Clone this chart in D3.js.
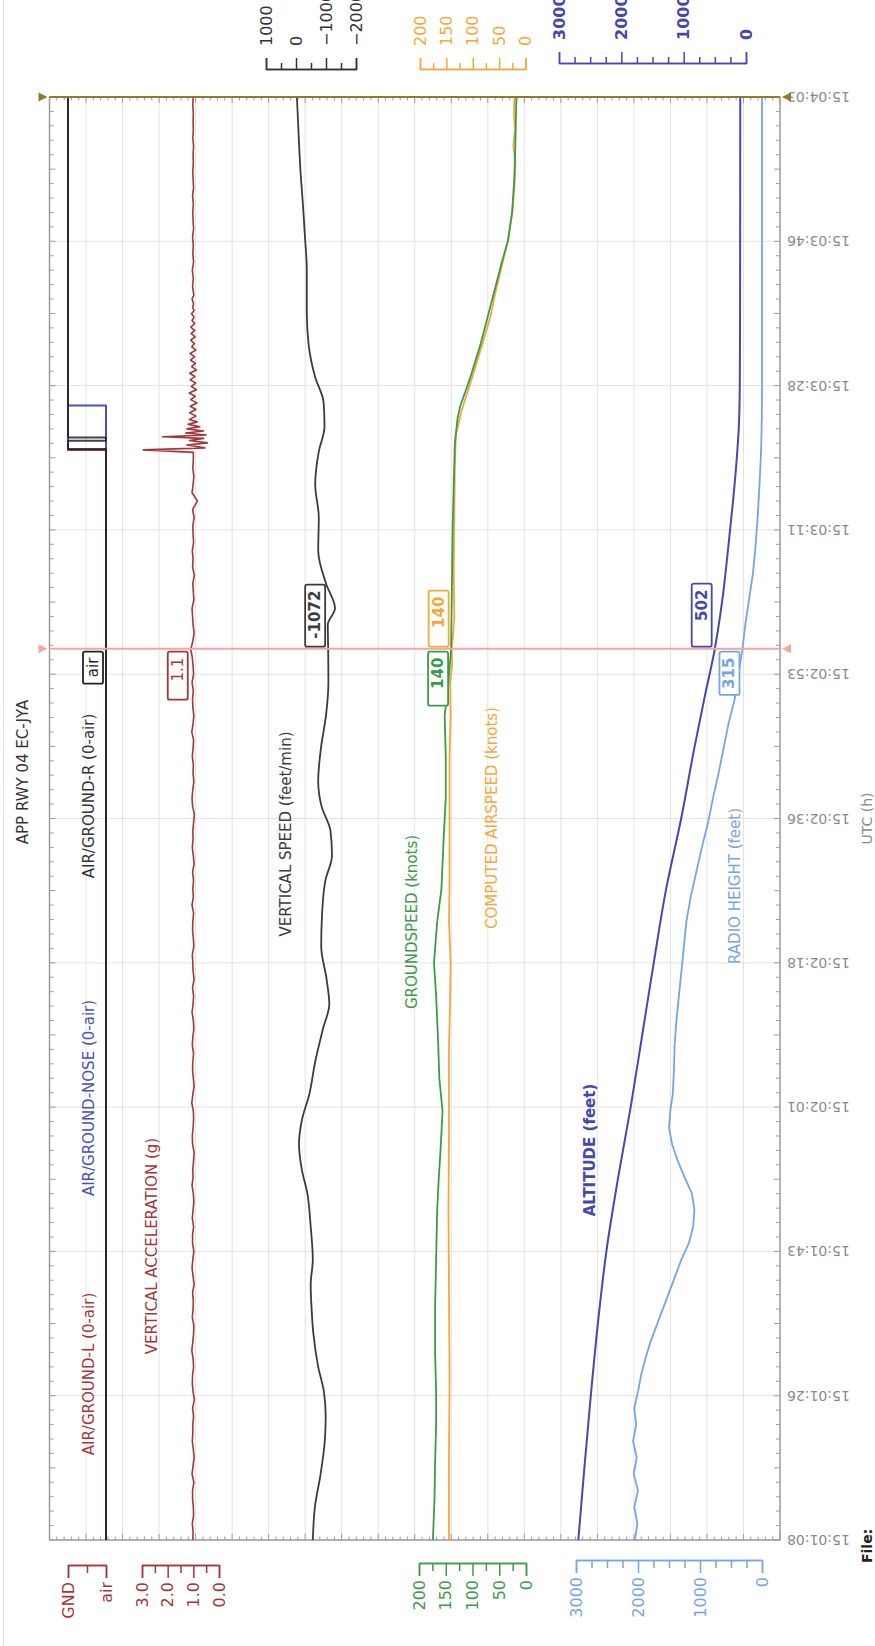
<!DOCTYPE html>
<html>
<head>
<meta charset="utf-8">
<script src="https://cdn.jsdelivr.net/npm/d3@7"></script>
<style>
  body { margin: 0; background: #fff; }
  svg { display: block; }
  text { font-family: "DejaVu Sans", Verdana, sans-serif; }
</style>
</head>
<body>
<svg id="chart" width="875" height="1646"></svg>
<script>
// ---- data (time = seconds after 15:01:08) ----
const timeLabels = ["15:01:08", "15:01:26", "15:01:43", "15:02:01", "15:02:18", "15:02:36",
                    "15:02:53", "15:03:11", "15:03:28", "15:03:46", "15:04:03"]
const timeStep = 17.5
const cursorTime = 108.1

// air/ground discretes: 0 = air, 1 = GND
const gearL = [[0, 0], [132.2, 1], [175, 1]]
const gearR = [[0, 0], [132.3, 1], [133.3, 0], [133.7, 1], [175, 1]]
const gearNose = [[0, 0], [137.6, 1], [175, 1]]

// vertical acceleration (g), one sample per second during the approach
const accelApproach = [
  1.02, 1.01, 1.04, 0.99, 1.00, 1.03, 1.03, 0.98, 1.05, 1.01, 0.97, 1.00, 1.04, 1.02, 1.02, 0.99, 1.03, 0.96, 1.01, 1.04,
  1.03, 0.99, 1.01, 1.06, 1.02, 0.99, 0.98, 1.04, 1.01, 1.00, 1.03, 0.97, 1.01, 1.05, 1.02, 0.98, 1.03, 1.03, 0.99, 1.04,
  1.01, 0.98, 1.00, 1.05, 1.01, 1.02, 0.99, 0.97, 1.03, 1.04, 1.01, 0.99, 1.00, 1.06, 1.02, 0.97, 1.00, 1.03, 1.02, 0.99,
  1.04, 1.02, 0.98, 1.00, 1.05, 1.01, 0.99, 1.03, 0.97, 1.01, 1.02, 1.04, 0.98, 1.00, 1.03, 1.02, 0.99, 1.05, 1.00, 1.02,
  0.99, 1.03, 0.97, 1.00, 1.04, 1.01, 1.02, 0.99, 0.96, 1.03, 1.05, 1.02, 0.98, 1.01, 1.00, 1.04, 1.01, 0.99, 1.06, 1.01,
  0.98, 1.02, 1.03, 1.00, 1.05, 0.99, 1.01, 1.04, 1.10, 1.02, 0.97, 1.01, 1.03, 1.05, 0.98, 1.00, 1.02, 0.96, 1.03, 1.01,
  1.04, 0.99, 1.01, 1.02, 0.97, 1.03, 0.84, 1.05, 1.01, 0.98, 1.02, 1.00
]
const accelLanding = [
  [131.9, 1.0], [132.2, 2.95], [132.45, 0.55], [132.8, 1.25], [133.05, 0.45], [133.35, 1.15], [133.6, 0.6],
  [133.8, 2.2], [134.0, 0.5], [134.25, 1.3], [134.5, 0.6], [134.75, 1.25], [135.0, 0.75], [135.3, 1.2],
  [135.6, 0.85], [135.9, 1.15], [136.3, 0.9], [136.7, 1.14], [137.1, 0.9], [137.5, 1.12], [137.9, 0.86],
  [138.3, 1.1], [138.7, 0.93], [139.1, 1.16], [139.5, 0.88], [139.9, 1.08], [140.3, 0.91], [140.7, 1.12],
  [141.1, 0.94], [141.5, 1.14], [141.9, 0.88], [142.3, 1.07], [142.7, 0.92], [143.1, 1.11], [143.5, 0.95],
  [143.9, 1.13], [144.3, 0.9], [144.7, 1.06], [145.1, 0.96], [145.5, 1.1], [145.9, 0.93], [146.3, 1.08],
  [146.7, 0.95], [147.1, 1.1], [147.5, 0.95], [147.9, 1.05], [148.3, 0.97], [148.7, 1.07], [149.1, 0.97],
  [149.5, 1.03], [149.9, 0.99], [150.5, 1.05], [151, 0.98], [152, 1.03], [153, 1.0], [154, 1.04], [155, 0.99],
  [156, 1.02], [157, 1.0], [158, 1.03], [159, 0.99], [160, 1.01], [161, 1.02], [162, 1.0], [163, 1.03],
  [164, 0.99], [165, 1.01], [166, 1.02], [167, 1.0], [168, 1.01], [169, 0.99], [170, 1.02], [171, 1.0],
  [172, 1.01], [173, 1.0], [174, 1.02], [175, 1.01]
]

// vertical speed (feet/min)
const verticalSpeed = [
  [0, -560], [4, -630], [8, -820], [12, -960], [15, -990], [18, -930], [21, -740], [25, -580], [28, -520],
  [31, -490], [34, -560], [38, -490], [42, -380], [45, -190], [48, -100], [51, -200], [54, -440], [58, -640],
  [62, -900], [65, -1110], [68, -1020], [72, -840], [76, -870], [80, -980], [83, -1200], [86, -1150], [89, -850],
  [92, -740], [96, -830], [100, -1000], [104, -1080], [108, -1072], [111, -1060], [113, -1300], [116, -1000],
  [120, -740], [124, -760], [128, -640], [132, -760], [135, -950], [138, -920], [141, -640], [145, -420],
  [149, -360], [154, -360], [158, -300], [162, -230], [166, -150], [171, -80], [175, -30]
]

// groundspeed and computed airspeed (knots)
const groundspeed = [
  [0, 174], [5, 171], [9, 170], [14, 168], [18, 168], [23, 170], [28, 170], [34, 168], [40, 166], [44, 163],
  [47, 160], [52, 156], [56, 162], [60, 164], [66, 168], [70, 172], [75, 166], [79, 158], [85, 154], [90, 150],
  [95, 150], [100, 152], [104, 145], [108, 140], [113, 139], [118, 138], [123, 137], [128, 135], [133, 133],
  [136, 128], [137.5, 123], [141, 104], [145, 85], [148.5, 71], [151, 61], [155, 45], [157.5, 34], [161, 26],
  [165, 22], [169, 20], [175, 18]
]
const airspeed = [
  [0, 145], [10, 145], [20, 144], [30, 145], [40, 146], [50, 145], [60, 145], [65, 143], [70, 142], [75, 145],
  [80, 144], [85, 144], [90, 144], [95, 144], [100, 142], [104, 143], [106, 139], [108, 140], [110, 137],
  [112, 135], [118, 136], [124, 135], [130, 134], [134, 132], [137, 121], [141, 101], [145, 82], [148.5, 66],
  [151, 58], [155, 43], [158, 32], [161, 25], [164, 21], [167, 19], [169, 23], [171, 20], [173, 22], [175, 21]
]

// altitude and radio height (feet)
const altitude = [
  [0, 2690], [9, 2590], [17.5, 2490], [26, 2380], [35, 2240], [44, 2050], [52.5, 1850], [61, 1670], [70, 1480],
  [79, 1280], [87.5, 1040], [96, 830], [102, 670], [108, 502], [114, 380], [120, 290], [126, 208], [131, 150],
  [135, 115], [140, 100], [150, 95], [175, 92]
]
const radioHeight = [
  [0, 2050], [2, 2010], [4, 2060], [6, 2000], [8, 2070], [10, 2020], [12, 2080], [14, 2030], [16, 2060],
  [18, 2000], [20, 1950], [22, 1880], [24, 1800], [26, 1700], [28, 1600], [30, 1500], [32, 1400], [34, 1300],
  [36, 1180], [38, 1110], [40, 1090], [42, 1130], [44, 1250], [46, 1360], [48, 1450], [50, 1500], [52, 1480],
  [54, 1440], [57, 1420], [60, 1410], [63, 1380], [66, 1340], [69, 1300], [72, 1260], [75, 1220], [78, 1150],
  [81, 1060], [84, 970], [87, 870], [90, 790], [93, 700], [96, 620], [99, 540], [102, 440], [105, 380],
  [108, 315], [111, 270], [114, 210], [117, 150], [120, 110], [124, 70], [128, 40], [132, 15], [136, 3],
  [140, 0], [175, 0]
]

// values shown in the cursor boxes
const cursorValues = { gear: "air", accel: 1.1, vs: -1072, gs: 140, cas: 140, alt: 502, rad: 315 }

// ---- layout: the chart is drawn landscape (1646 x 875) and turned a quarter left ----
const W = 1646, H = 875
const plot = { left: 106, right: 1549, top: 49.5, bottom: 780 }

const svg = d3.select('#chart')
const page = svg.append('g').attr('transform', `translate(0,${W}) rotate(-90)`)

const x = d3.scaleLinear().domain([0, 175]).range([plot.left, plot.right])

const yGear = d3.scaleLinear().domain([0, 1]).range([106, 68])
const yAccel = d3.scaleLinear().domain([0, 3]).range([219, 142])
const yGs = d3.scaleLinear().domain([0, 200]).range([526, 419])
const yRad = d3.scaleLinear().domain([0, 3000]).range([762, 576])
const yVs = d3.scaleLinear().domain([-2000, 1000]).range([356, 266])
const yCas = d3.scaleLinear().domain([0, 200]).range([525.5, 420])
const yAlt = d3.scaleLinear().domain([0, 3000]).range([746, 559])

const C = {
  red: '#a3363b', black: '#333', nose: '#4c4fb8', vs: '#3c3c3c', green: '#3d9a4b',
  orange: '#f5a83a', alt: '#4747ad', rad: '#76a5e3', grid: '#e3e3e3', frame: '#9d9d9d',
  cursor: '#f6a3a3', olive: '#8c7b2b', gray: '#8a8a8a'
}

// page edge line
page.append('line').attr('x1', 0).attr('x2', W).attr('y1', 3.5).attr('y2', 3.5)
  .attr('stroke', '#e6e6e6').attr('stroke-width', 1)

// grid
const gridRows = d3.range(21).map(k => plot.top + k * (plot.bottom - plot.top) / 20)
page.append('g').selectAll('line').data(gridRows).join('line')
  .attr('x1', plot.left).attr('x2', plot.right)
  .attr('y1', d => d).attr('y2', d => d)
  .attr('stroke', C.grid).attr('stroke-width', 1)

page.append('g').selectAll('line').data(timeLabels).join('line')
  .attr('x1', (d, i) => x(i * timeStep)).attr('x2', (d, i) => x(i * timeStep))
  .attr('y1', plot.top).attr('y2', plot.bottom)
  .attr('stroke', C.grid).attr('stroke-width', 1)

// frame
const frame = page.append('g').attr('stroke', C.frame).attr('stroke-width', 1.5).attr('fill', 'none')
frame.append('path').attr('d', `M${plot.right},${plot.top}H${plot.left}V${plot.bottom}H${plot.right}`)

// time minor ticks on top and bottom edges
const timeTicks = d3.range(0, 101).map(i => i * 1.75)
frame.selectAll('.tt').data(timeTicks).join('path').attr('class', 'tt')
  .attr('stroke-width', 1)
  .attr('d', (d, i) => {
    const len = i % 5 === 0 ? 6 : 4
    return `M${x(d)},${plot.top}v${len}M${x(d)},${plot.bottom}v${-len}`
  })

// value minor ticks on left and right edges
const rowTicks = d3.range(101).map(k => plot.top + k * (plot.bottom - plot.top) / 100)
frame.selectAll('.rt').data(rowTicks).join('path').attr('class', 'rt')
  .attr('stroke-width', 1)
  .attr('d', (d, i) => {
    const len = i % 5 === 0 ? 6 : 3.5
    return `M${plot.left},${d}h${len}M${plot.right},${d}h${-len}`
  })

// time labels
page.append('g').selectAll('text').data(timeLabels).join('text')
  .attr('transform', (d, i) => `translate(${x(i * timeStep)},${plot.bottom + 7}) rotate(-90)`)
  .attr('text-anchor', 'end').attr('dy', '0.35em')
  .attr('font-size', 14).attr('fill', C.gray)
  .text(d => d)

page.append('text').attr('x', (plot.left + plot.right) / 2).attr('y', 872)
  .attr('text-anchor', 'middle').attr('font-size', 14).attr('fill', C.gray).text('UTC (h)')

page.append('text').attr('x', 83).attr('y', 872)
  .attr('font-size', 14).attr('font-weight', 'bold').attr('fill', '#222').text('File:')

page.append('text').attr('x', 874).attr('y', 28)
  .attr('text-anchor', 'middle').attr('font-size', 15).attr('fill', '#333').text('APP RWY 04 EC-JYA')

// ---- traces ----
const traces = page.append('g').attr('fill', 'none').attr('stroke-linejoin', 'round')

function trace(data, yScale, color, width, curve) {
  traces.append('path').datum(data)
    .attr('stroke', color).attr('stroke-width', width)
    .attr('d', d3.line().x(d => x(d[0])).y(d => yScale(d[1])).curve(curve || d3.curveLinear))
}

const accel = accelApproach.map((v, i) => [i, v]).concat(accelLanding)

trace(radioHeight, yRad, C.rad, 1.8)
trace(altitude, yAlt, C.alt, 2, d3.curveMonotoneX)
trace(airspeed, yCas, C.orange, 1.8)
trace(groundspeed, yGs, C.green, 1.8)
trace(verticalSpeed, yVs, C.vs, 1.8, d3.curveMonotoneX)
trace(accel, yAccel, C.red, 1.6)
trace(gearNose, yGear, C.nose, 2, d3.curveStepAfter)
trace(gearL, yGear, C.red, 2, d3.curveStepAfter)
traces.append('path').datum(gearR)
  .attr('stroke', '#1e1e2e').attr('stroke-width', 2).attr('opacity', 0.85)
  .attr('d', d3.line().x(d => x(d[0])).y(d => yGear(d[1])).curve(d3.curveStepAfter))

// ---- series labels ----
const seriesLabels = [
  { text: 'AIR/GROUND-L (0-air)', cx: 272, y: 94, color: C.red },
  { text: 'AIR/GROUND-NOSE (0-air)', cx: 548, y: 94, color: C.nose },
  { text: 'AIR/GROUND-R (0-air)', cx: 850, y: 94, color: C.black },
  { text: 'VERTICAL ACCELERATION (g)', cx: 400, y: 157, color: C.red },
  { text: 'VERTICAL SPEED (feet/min)', cx: 812, y: 291, color: C.vs },
  { text: 'GROUNDSPEED (knots)', cx: 724, y: 417, color: C.green },
  { text: 'COMPUTED AIRSPEED (knots)', cx: 828, y: 497, color: C.orange },
  { text: 'ALTITUDE (feet)', cx: 496, y: 595, color: C.alt, bold: true },
  { text: 'RADIO HEIGHT (feet)', cx: 760, y: 740, color: C.rad }
]
page.append('g').selectAll('text').data(seriesLabels).join('text')
  .attr('x', d => d.cx).attr('y', d => d.y)
  .attr('text-anchor', 'middle').attr('font-size', 15)
  .attr('font-weight', d => d.bold ? 'bold' : 'normal')
  .attr('fill', d => d.color).text(d => d.text)

// ---- axes ----
function valueAxis(scale, side, pos, color, major, minor, fmt, bold) {
  const g = page.append('g').attr('transform', `translate(${pos},0)`)
  const make = side === 'left' ? d3.axisLeft : d3.axisRight
  g.append('g').call(make(scale).tickValues(minor).tickSize(7).tickSizeOuter(0).tickFormat(''))
  g.append('g').call(make(scale).tickValues(major).tickSize(12).tickSizeOuter(12).tickPadding(side === 'left' ? 4 : 12)
    .tickFormat(fmt || d3.format('d')))
  g.selectAll('path, line').attr('stroke', color).attr('stroke-width', 1.5)
  g.selectAll('text').attr('fill', color).attr('font-size', 16)
    .attr('font-weight', bold ? 'bold' : 'normal')
    .style('font-family', '"DejaVu Sans", Verdana, sans-serif')
}

valueAxis(yGear, 'left', 80, C.red, [0, 1], [0.5], d => d === 1 ? 'GND' : 'air')
valueAxis(yAccel, 'left', 80, C.red, [0, 1, 2, 3], [0.5, 1.5, 2.5], d3.format('.1f'))
valueAxis(yGs, 'left', 82, C.green, [0, 50, 100, 150, 200], [25, 75, 125, 175])
valueAxis(yRad, 'left', 85, C.rad, [0, 1000, 2000, 3000], [250, 500, 750, 1250, 1500, 1750, 2250, 2500, 2750])
valueAxis(yVs, 'right', 1576, C.black, [-2000, -1000, 0, 1000], [-1500, -500, 500])
valueAxis(yCas, 'right', 1576, C.orange, [0, 50, 100, 150, 200], [25, 75, 125, 175])
valueAxis(yAlt, 'right', 1582, C.alt, [0, 1000, 2000, 3000], [250, 500, 750, 1250, 1500, 1750, 2250, 2500, 2750], null, true)

// ---- cursors ----
function cursor(t, color) {
  const cx = x(t)
  page.append('line').attr('x1', cx).attr('x2', cx).attr('y1', plot.top).attr('y2', plot.bottom)
    .attr('stroke', color).attr('stroke-width', 2)
  page.append('path').attr('fill', color)
    .attr('d', `M${cx - 4.5},${plot.top - 11}L${cx + 4.5},${plot.top - 11}L${cx},${plot.top - 2}Z` +
               `M${cx - 4.5},${plot.bottom + 11}L${cx + 4.5},${plot.bottom + 11}L${cx},${plot.bottom + 2}Z`)
}
cursor(175, C.olive)
cursor(cursorTime, C.cursor)

// value boxes beside the cursor (text sits at the right end of each box)
const boxes = [
  { text: cursorValues.gear, y: yGear(0), color: '#222', side: 'left', weight: 'normal', len: 32 },
  { text: cursorValues.accel.toFixed(1), y: yAccel(cursorValues.accel), color: C.red, side: 'left', weight: 'normal', len: 48 },
  { text: String(cursorValues.vs), y: yVs(cursorValues.vs), color: C.vs, side: 'right', weight: 'bold', len: 62 },
  { text: String(cursorValues.gs), y: yGs(cursorValues.gs), color: C.green, side: 'left', weight: 'bold', len: 54 },
  { text: String(cursorValues.cas), y: yCas(cursorValues.cas), color: C.orange, side: 'right', weight: 'bold', len: 56 },
  { text: String(cursorValues.alt), y: yAlt(cursorValues.alt), color: C.alt, side: 'right', weight: 'bold', len: 63 },
  { text: String(cursorValues.rad), y: yRad(cursorValues.rad), color: C.rad, side: 'left', weight: 'bold', len: 39 }
]
const cx = x(cursorTime)
boxes.forEach(b => {
  const g = page.append('g')
  const label = g.append('text').attr('font-size', 15).attr('font-weight', b.weight)
    .attr('fill', b.color).attr('text-anchor', 'end').text(b.text)
  const len = Math.max(label.node().getComputedTextLength() + 12, b.len)
  const x0 = b.side === 'left' ? cx - 3 - len : cx + 2
  g.insert('rect', 'text').attr('x', x0).attr('y', b.y - 23).attr('width', len).attr('height', 20)
    .attr('rx', 2).attr('fill', '#fff').attr('stroke', b.color).attr('stroke-width', 1.8)
  label.attr('x', x0 + len - 6).attr('y', b.y - 8)
})
</script>
</body>
</html>
